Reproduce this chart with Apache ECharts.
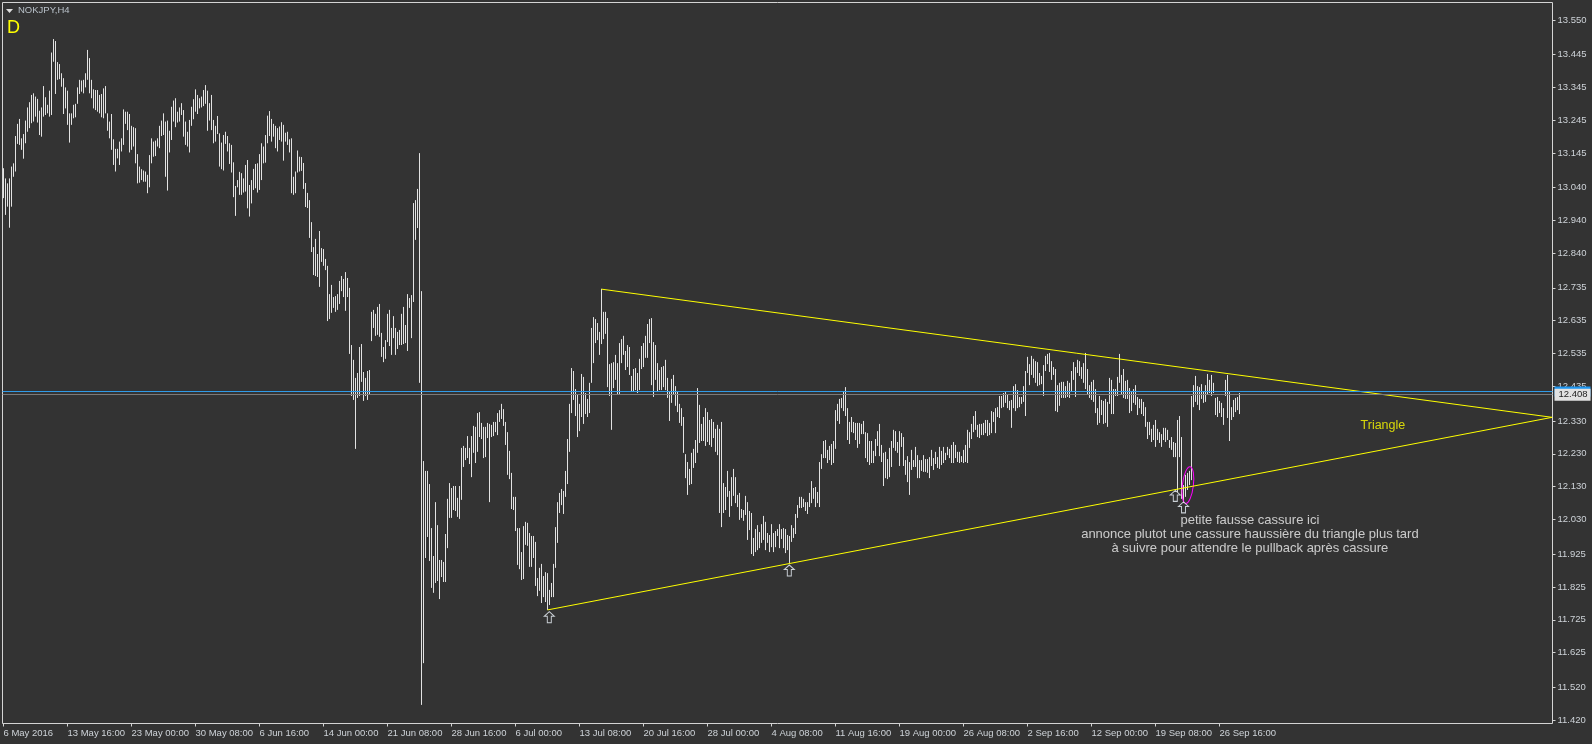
<!DOCTYPE html>
<html><head><meta charset="utf-8">
<style>html,body{margin:0;padding:0;background:#333333}#c{width:1592px;height:744px}</style>
<script src="https://cdn.jsdelivr.net/npm/echarts@6/dist/echarts.min.js"></script>
</head><body><div id="c"></div>
<script>
const symbolName = "NOKJPY,H4";
const periodMark = "D";
const highs = [13.099,13.068,13.053,13.068,13.104,13.114,13.197,13.234,13.249,13.190,13.203,13.244,13.284,13.300,13.322,13.327,13.317,13.310,13.274,13.284,
13.349,13.315,13.292,13.335,13.451,13.492,13.486,13.422,13.416,13.388,13.373,13.345,13.335,13.266,13.266,13.292,13.295,13.345,13.368,13.366,
13.368,13.388,13.459,13.434,13.368,13.339,13.337,13.337,13.322,13.325,13.342,13.349,13.266,13.241,13.264,13.187,13.158,13.158,13.180,13.190,
13.278,13.271,13.271,13.264,13.228,13.224,13.221,13.142,13.104,13.096,13.092,13.089,13.079,13.139,13.190,13.180,13.183,13.190,13.228,13.244,
13.266,13.241,13.244,13.213,13.286,13.305,13.312,13.271,13.284,13.297,13.276,13.241,13.210,13.246,13.286,13.309,13.339,13.322,13.312,13.317,
13.337,13.352,13.335,13.297,13.322,13.246,13.228,13.258,13.205,13.177,13.200,13.210,13.197,13.175,13.170,13.117,13.045,13.063,13.088,13.084,
13.068,13.109,13.124,13.048,13.063,13.097,13.112,13.114,13.142,13.175,13.165,13.200,13.259,13.273,13.249,13.234,13.228,13.221,13.226,13.239,
13.231,13.207,13.210,13.187,13.190,13.073,13.089,13.153,13.134,13.133,13.115,13.054,13.024,13.002,12.935,12.859,12.884,12.838,12.908,12.856,
12.853,12.823,12.802,12.716,12.744,12.707,12.710,12.716,12.756,12.771,12.762,12.783,12.765,12.735,12.561,12.516,12.461,12.476,12.555,12.564,
12.479,12.461,12.482,12.485,12.662,12.668,12.656,12.677,12.686,12.598,12.555,12.576,12.656,12.668,12.613,12.649,12.613,12.601,12.607,12.656,
12.677,12.622,12.716,12.704,12.713,12.993,13.002,13.036,13.145,12.725,12.208,12.178,12.178,12.138,12.004,11.919,12.083,12.013,11.907,11.907,
11.901,11.986,12.093,12.141,12.126,12.132,12.132,12.096,12.132,12.248,12.254,12.248,12.284,12.248,12.284,12.315,12.312,12.354,12.357,12.324,
12.312,12.312,12.324,12.321,12.318,12.327,12.327,12.354,12.363,12.382,12.366,12.327,12.296,12.239,12.172,12.099,12.099,12.004,12.004,11.931,
12.010,12.023,12.020,11.989,11.980,11.980,11.962,11.852,11.883,11.895,11.858,11.870,11.867,11.816,11.837,11.895,12.007,12.083,12.111,12.123,
12.117,12.178,12.275,12.382,12.491,12.482,12.427,12.409,12.382,12.473,12.464,12.415,12.397,12.446,12.613,12.646,12.640,12.628,12.601,12.732,
12.662,12.662,12.643,12.503,12.506,12.509,12.531,12.506,12.567,12.579,12.589,12.543,12.561,12.555,12.467,12.488,12.491,12.476,12.519,12.558,
12.567,12.589,12.625,12.640,12.643,12.570,12.561,12.506,12.485,12.494,12.497,12.516,12.461,12.418,12.458,12.470,12.436,12.421,12.382,12.369,
12.342,12.229,12.205,12.184,12.233,12.245,12.272,12.430,12.379,12.321,12.342,12.369,12.357,12.333,12.336,12.327,12.306,12.318,12.306,12.327,
12.141,12.129,12.178,12.117,12.159,12.184,12.159,12.105,12.111,12.062,12.059,12.102,12.083,12.056,12.050,11.974,12.001,12.013,11.992,12.016,
12.041,12.023,11.989,11.983,12.016,11.989,11.995,12.001,12.016,12.001,12.004,12.001,11.983,11.980,12.013,12.004,12.047,12.074,12.099,12.099,
12.093,12.083,12.083,12.111,12.147,12.126,12.129,12.114,12.205,12.229,12.269,12.272,12.242,12.254,12.260,12.269,12.363,12.382,12.397,12.400,
12.418,12.433,12.369,12.327,12.342,12.327,12.324,12.324,12.324,12.321,12.330,12.296,12.293,12.269,12.269,12.239,12.275,12.299,12.321,12.257,
12.233,12.236,12.214,12.248,12.269,12.303,12.299,12.266,12.299,12.293,12.281,12.211,12.223,12.205,12.242,12.211,12.251,12.226,12.211,12.211,
12.226,12.214,12.214,12.220,12.242,12.217,12.236,12.220,12.251,12.239,12.251,12.233,12.251,12.245,12.257,12.266,12.257,12.236,12.236,12.223,
12.242,12.257,12.303,12.296,12.321,12.345,12.360,12.318,12.321,12.321,12.324,12.333,12.333,12.324,12.360,12.357,12.369,12.372,12.406,12.406,
12.415,12.418,12.412,12.391,12.394,12.436,12.442,12.424,12.403,12.403,12.436,12.482,12.525,12.503,12.528,12.519,12.512,12.509,12.476,12.467,
12.500,12.528,12.534,12.537,12.512,12.494,12.488,12.439,12.446,12.449,12.449,12.436,12.452,12.446,12.482,12.509,12.494,12.516,12.512,12.494,
12.506,12.537,12.488,12.439,12.449,12.455,12.427,12.369,12.406,12.394,12.391,12.397,12.388,12.461,12.455,12.427,12.427,12.464,12.534,12.470,
12.488,12.452,12.455,12.430,12.418,12.427,12.439,12.403,12.397,12.397,12.388,12.372,12.327,12.327,12.306,12.318,12.333,12.306,12.296,12.290,
12.309,12.309,12.303,12.272,12.281,12.266,12.263,12.333,12.345,12.281,12.135,12.166,12.172,12.178,12.406,12.439,12.467,12.436,12.433,12.442,
12.421,12.439,12.473,12.455,12.470,12.446,12.400,12.403,12.391,12.385,12.369,12.455,12.470,12.418,12.372,12.394,12.400,12.403,12.415];
const lows = [13.008,12.957,12.982,12.918,12.982,13.073,13.089,13.173,13.170,13.155,13.128,13.175,13.210,13.221,13.236,13.241,13.256,13.238,13.200,13.195,
13.256,13.261,13.266,13.256,13.261,13.423,13.325,13.368,13.370,13.347,13.264,13.281,13.231,13.177,13.231,13.251,13.254,13.295,13.325,13.332,
13.327,13.345,13.368,13.327,13.312,13.281,13.276,13.271,13.266,13.254,13.251,13.266,13.213,13.190,13.155,13.109,13.089,13.129,13.109,13.150,
13.170,13.234,13.215,13.147,13.155,13.165,13.114,13.053,13.055,13.063,13.058,13.058,13.023,13.041,13.114,13.134,13.136,13.165,13.160,13.197,
13.200,13.073,13.031,13.147,13.185,13.241,13.224,13.238,13.241,13.261,13.195,13.170,13.165,13.147,13.228,13.248,13.271,13.264,13.281,13.284,
13.288,13.295,13.213,13.244,13.215,13.175,13.180,13.203,13.104,13.096,13.092,13.173,13.150,13.112,13.086,13.011,12.954,13.041,13.018,13.018,
13.025,13.028,12.977,12.952,12.992,13.033,13.038,13.025,13.033,13.063,13.114,13.116,13.175,13.197,13.180,13.195,13.160,13.150,13.185,13.180,
13.122,13.180,13.170,13.147,13.023,13.018,13.023,13.086,13.089,13.091,13.036,12.981,12.978,12.887,12.844,12.774,12.771,12.768,12.738,12.814,
12.802,12.789,12.634,12.640,12.659,12.674,12.662,12.668,12.686,12.725,12.707,12.665,12.707,12.534,12.406,12.394,12.245,12.400,12.406,12.449,
12.391,12.406,12.394,12.412,12.573,12.613,12.589,12.592,12.586,12.525,12.509,12.519,12.570,12.558,12.531,12.582,12.531,12.549,12.561,12.561,
12.564,12.567,12.543,12.674,12.582,12.692,12.881,12.917,12.446,11.466,11.593,11.913,11.977,11.904,11.822,11.807,11.837,11.843,11.788,11.855,
11.840,11.840,11.943,12.035,12.035,12.059,12.056,12.038,12.032,12.090,12.190,12.211,12.217,12.199,12.159,12.233,12.202,12.236,12.281,12.275,
12.217,12.220,12.278,12.083,12.281,12.284,12.296,12.287,12.327,12.336,12.315,12.257,12.166,12.153,12.062,12.059,11.995,11.892,11.879,11.846,
11.849,11.953,11.950,11.886,11.886,11.913,11.828,11.797,11.813,11.776,11.794,11.779,11.755,11.770,11.794,11.794,11.883,11.959,12.050,12.074,
12.047,12.099,12.138,12.236,12.354,12.394,12.345,12.281,12.299,12.342,12.321,12.351,12.342,12.354,12.446,12.506,12.567,12.576,12.531,12.564,
12.579,12.595,12.433,12.406,12.303,12.430,12.455,12.409,12.409,12.506,12.531,12.485,12.494,12.470,12.418,12.418,12.424,12.415,12.424,12.488,
12.494,12.522,12.522,12.567,12.439,12.403,12.455,12.418,12.424,12.424,12.433,12.424,12.400,12.330,12.385,12.412,12.376,12.357,12.324,12.315,
12.233,12.156,12.105,12.135,12.138,12.187,12.202,12.233,12.263,12.269,12.269,12.254,12.266,12.257,12.251,12.278,12.236,12.226,12.050,12.007,
12.050,12.059,12.099,12.038,12.071,12.102,12.080,12.068,12.029,12.035,12.026,12.044,11.968,11.998,11.925,11.919,11.931,11.937,11.943,11.959,
11.968,11.937,11.959,11.931,11.946,11.931,11.946,11.980,11.943,11.971,11.943,11.928,11.937,11.898,11.962,11.974,11.986,12.035,12.065,12.065,
12.068,12.056,12.047,12.068,12.080,12.093,12.068,12.080,12.068,12.184,12.217,12.217,12.202,12.211,12.196,12.202,12.245,12.330,12.321,12.369,
12.360,12.345,12.272,12.260,12.296,12.293,12.272,12.248,12.260,12.290,12.290,12.217,12.205,12.196,12.202,12.202,12.223,12.254,12.223,12.205,
12.132,12.156,12.153,12.159,12.190,12.248,12.239,12.233,12.193,12.251,12.193,12.166,12.144,12.105,12.181,12.190,12.190,12.156,12.156,12.178,
12.175,12.175,12.172,12.156,12.193,12.181,12.199,12.187,12.184,12.196,12.202,12.211,12.226,12.217,12.202,12.202,12.217,12.205,12.202,12.205,
12.202,12.205,12.202,12.248,12.275,12.296,12.303,12.281,12.278,12.287,12.287,12.293,12.284,12.287,12.293,12.327,12.293,12.342,12.339,12.369,
12.372,12.385,12.369,12.363,12.309,12.369,12.360,12.369,12.372,12.382,12.388,12.345,12.476,12.439,12.470,12.461,12.446,12.436,12.439,12.442,
12.406,12.482,12.503,12.479,12.455,12.470,12.360,12.357,12.376,12.400,12.400,12.400,12.403,12.400,12.418,12.455,12.403,12.476,12.467,12.458,
12.446,12.427,12.412,12.400,12.394,12.388,12.354,12.318,12.324,12.348,12.321,12.324,12.312,12.382,12.351,12.351,12.406,12.406,12.446,12.409,
12.400,12.397,12.397,12.354,12.360,12.385,12.379,12.348,12.369,12.351,12.345,12.312,12.275,12.287,12.266,12.272,12.251,12.272,12.263,12.251,
12.272,12.266,12.272,12.248,12.242,12.220,12.220,12.114,12.220,12.093,12.080,12.099,12.120,12.135,12.150,12.372,12.388,12.379,12.363,12.397,
12.385,12.388,12.409,12.415,12.406,12.415,12.348,12.342,12.354,12.342,12.318,12.406,12.339,12.269,12.333,12.342,12.357,12.363,12.351];
const priceTicks = [13.55,13.445,13.345,13.245,13.145,13.04,12.94,12.84,12.735,12.635,12.535,12.435,12.33,12.23,12.13,12.03,11.925,11.825,11.725,11.625,11.52,11.42];
const timeLabels = ["6 May 2016","13 May 16:00","23 May 00:00","30 May 08:00","6 Jun 16:00","14 Jun 00:00","21 Jun 08:00","28 Jun 16:00","6 Jul 00:00","13 Jul 08:00","20 Jul 16:00","28 Jul 00:00","4 Aug 08:00","11 Aug 16:00","19 Aug 00:00","26 Aug 08:00","2 Sep 16:00","12 Sep 00:00","19 Sep 08:00","26 Sep 16:00"];
const barsPerLabel = 32;
const upperTrend = [[299,12.731],[774.3,12.341]];
const lowerTrend = [[272,11.755],[774.3,12.341]];
const askPrice = 12.419;
const bidPrice = 12.408;
const arrows = [[272.9,11.733],[392.9,11.875],[585.9,12.102],[590,12.067]];
const ellipseCenter = [592.2,12.135];
const notes = [
  ["Triangle",689.7,12.315,"#ffff00"],
  ["petite fausse cassure ici",623.2,12.026,"#f0f0f0"],
  ["annonce plutot une cassure haussière du triangle plus tard",623.2,11.986,"#f0f0f0"],
  ["à suivre pour attendre le pullback après cassure",623.2,11.941,"#f0f0f0"]
];

const FONT = '"Liberation Sans", sans-serif';
const bars = highs.map((h,i)=>[i,h,lows[i]]);
const timeTicks = timeLabels.map((_,k)=>k*barsPerLabel);
const axisColor = '#d4d4d4';
const labelColor = '#ced3d8';

const chart = echarts.init(document.getElementById('c'),null,{renderer:'canvas'});
chart.setOption({
  animation:false,
  backgroundColor:'#333333',
  title:[
    {text:symbolName,left:13,top:0,textStyle:{color:'#b8c0c8',fontSize:9.5,fontWeight:'normal',fontFamily:FONT}},
    {text:periodMark,left:2,top:14,textStyle:{color:'#ffff00',fontSize:18,fontWeight:'normal',fontFamily:FONT}}
  ],
  graphic:[{type:'polygon',shape:{points:[[6,9],[13,9],[9.5,13]]},style:{fill:'#dddddd'}}],
  grid:{left:2.5,right:39.5,top:2.5,bottom:20.5,show:true,borderColor:axisColor,borderWidth:1,backgroundColor:'transparent'},
  xAxis:{type:'value',min:-0.5,max:774.5,splitLine:{show:false},
    axisLine:{show:false,onZero:false},
    axisTick:{show:true,length:3,inside:false,lineStyle:{color:axisColor},customValues:timeTicks},
    axisLabel:{show:true,customValues:timeTicks,margin:5,align:'left',color:labelColor,fontSize:9.5,fontFamily:FONT,
      hideOverlap:false,formatter:v=>timeLabels[Math.round(v/barsPerLabel)]||''}},
  yAxis:{type:'value',position:'right',min:11.4094,max:13.6033,splitLine:{show:false},
    axisLine:{show:false,onZero:false},
    axisTick:{show:true,length:3,lineStyle:{color:axisColor},customValues:priceTicks},
    axisLabel:{show:true,customValues:priceTicks,margin:5,color:labelColor,fontSize:9.5,fontFamily:FONT,
      hideOverlap:false,formatter:v=>v.toFixed(3)}},
  series:[
    {type:'custom',data:bars,encode:{x:0,y:[1,2]},clip:true,silent:true,
      renderItem:(p,api)=>{
        const a=api.coord([api.value(0),api.value(1)]),b=api.coord([api.value(0),api.value(2)]);
        return {type:'line',shape:{x1:a[0],y1:a[1],x2:b[0],y2:b[1]},style:{stroke:'#e2e2e2',lineWidth:1}};
      }},
    {type:'line',data:upperTrend,showSymbol:false,silent:true,lineStyle:{color:'#ffff00',width:1},
      markLine:{silent:true,symbol:'none',animation:false,data:[
        {yAxis:askPrice,lineStyle:{color:'#2f9be8',width:1,type:'solid'},
         label:{show:true,position:'end',distance:2,formatter:'{b| }',rich:{b:{width:36,height:10,backgroundColor:'#1e96f0'}}}},
        {yAxis:bidPrice,lineStyle:{color:'#7a7a7a',width:1,type:'solid'},
         label:{show:true,position:'end',distance:2,formatter:String(bidPrice.toFixed(3)),color:'#222222',fontSize:9.5,fontFamily:FONT,
           backgroundColor:'#e2e2e2',padding:[1,3,1,4]}}
      ]}},
    {type:'line',data:lowerTrend,showSymbol:false,silent:true,lineStyle:{color:'#ffff00',width:1}},
    {type:'scatter',data:arrows,silent:true,symbol:'path://M5 0 L10 5 L7 5 L7 12 L3 12 L3 5 L0 5 Z',symbolSize:[10,11],
      itemStyle:{color:'#333333',borderColor:'#f0f8ff',borderWidth:1}},
    {type:'custom',data:[ellipseCenter],encode:{x:0,y:1},silent:true,
      renderItem:(p,api)=>{
        const c=api.coord([api.value(0),api.value(1)]);
        return {type:'ellipse',shape:{cx:0,cy:0,rx:5.5,ry:18.5},x:c[0],y:c[1],rotation:-0.12,
          style:{fill:'transparent',stroke:'#ff00ff',lineWidth:1}};
      }},
    {type:'scatter',silent:true,symbolSize:1,itemStyle:{color:'transparent'},
      data:notes.map((n,k)=>({name:n[0],value:[n[1],n[2]],label:{color:n[3],fontSize:k===0?12.5:13}})),
      label:{show:true,position:'inside',formatter:'{b}',fontFamily:FONT,align:'center',verticalAlign:'middle'}}
  ]
});
</script></body></html>
